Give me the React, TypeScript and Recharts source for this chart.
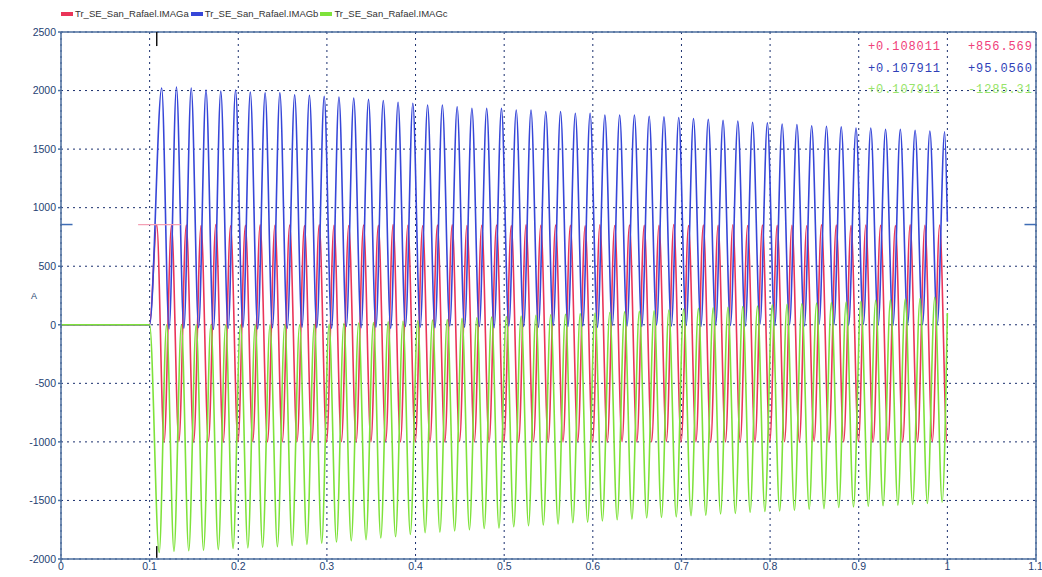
import { LineChart, Line, XAxis, YAxis, CartesianGrid, ReferenceLine } from "recharts";

// 60 Hz inrush record, one entry per cycle (54 cycles between 0.1 s and 1.0 s)
const PERIOD = 1 / 60;

const timeTicks = [0, 0.1, 0.2, 0.3, 0.4, 0.5, 0.6, 0.7, 0.8, 0.9, 1, 1.1];
const currentTicks = [-2000, -1500, -1000, -500, 0, 500, 1000, 1500, 2000, 2500];

const seriesNames = ["Tr_SE_San_Rafael.IMAGa", "Tr_SE_San_Rafael.IMAGb", "Tr_SE_San_Rafael.IMAGc"];

// phase a (red): peaks / troughs per cycle
const redPeaks = [
  856, 850, 852, 848, 855, 846, 850, 853, 849, 851, 847, 854, 850, 848, 852, 849, 855, 850,
  846, 851, 853, 848, 850, 852, 847, 854, 849, 851, 850, 846, 853, 848, 852, 850, 849, 855,
  847, 851, 850, 853, 848, 852, 849, 850, 846, 854, 851, 848, 852, 850, 847, 853, 849, 851,
];
const redTroughs = [
  -1000, -998, -1000, -995, -1000, -1000, -997, -1000, -1000, -996, -1000, -1000, -998, -1000,
  -1000, -995, -1000, -999, -1000, -1000, -996, -1000, -1000, -998, -1000, -997, -1000, -1000,
  -995, -1000, -1000, -998, -1000, -1000, -996, -1000, -999, -1000, -1000, -997, -1000, -1000,
  -998, -1000, -995, -1000, -1000, -997, -1000, -1000, -998, -1000, -996, -1000,
];

// phase b (blue)
const bluePeaks = [
  2022, 2030, 2022, 2005, 1995, 2005, 1988, 1980, 1980, 1963,
  1960, 1950, 1945, 1935, 1925, 1915, 1900,
  1891, 1877, 1877, 1862, 1848, 1848, 1848, 1834, 1834, 1820, 1820, 1806, 1806, 1791, 1791, 1791,
  1780, 1775, 1770, 1760, 1755, 1745, 1740, 1730, 1725, 1715, 1710, 1700, 1695,
  1690, 1680, 1680, 1670, 1670, 1660, 1655, 1648,
];
const blueTroughs = [
  -35, -30, -25, -40, -30, -20, -35, -25, -30, -20, -25, -30, -15, -25, -20, -30, -15, -20,
  -25, -10, -20, -15, -25, -10, -15, -20, -5, -15, -10, -20, -5, -10, -15, 0, -10, -5,
  -15, 0, -5, -10, 5, -5, 0, -10, 5, 0, -5, 5, 0, -5, 10, 0, 5, 0,
];

// phase c (green): troughs / peaks per cycle
const greenTroughs = [
  -1945, -1935, -1930, -1925, -1920, -1910, -1905, -1900, -1895, -1885,
  -1875, -1865, -1855, -1845, -1835, -1820, -1810,
  -1790, -1775, -1770, -1760, -1750, -1740, -1735, -1725, -1715, -1710, -1700, -1690, -1685, -1675, -1665, -1660,
  -1650, -1645, -1640, -1630, -1625, -1615, -1610, -1600, -1595, -1590, -1585, -1575, -1570,
  -1560, -1555, -1550, -1545, -1540, -1535, -1525, -1515,
];
const greenPeaks = [
  0, 0, 0, 0, 0, 0, 0, 0, 0, 0, 0, 5, 10,
  15, 20, 25, 30, 35, 40, 45, 55,
  60, 65, 70, 75, 80, 85, 90, 95, 100, 105, 110, 115,
  120, 125, 135, 140, 145, 150, 155, 160, 170, 175, 180, 185, 190,
  195, 200, 210, 215, 220, 225, 235, 240,
];

// cursor readout at t ~ 0.108 s
const cursorTimes = ["+0.108011", "+0.107911", "+0.107911"];
const cursorValues = ["+856.569", "+95.0560", "-1285.31"];

const RED = "#ea3458";
const BLUE = "#3646d8";
const GREEN = "#7ee23a";
const FRAME = "#4b6e9e";

type Pt = { t: number; v: number };

function buildWave(first: number[], second: number[], firstTime: number, endValue: number): Pt[] {
  const pts: Pt[] = [
    { t: 0, v: 0 },
    { t: 0.1, v: 0 },
  ];
  first.forEach((a, k) => {
    const t1 = firstTime + k * PERIOD;
    if (t1 <= 1) pts.push({ t: t1, v: a });
    const t2 = t1 + PERIOD / 2;
    if (t2 <= 1) pts.push({ t: t2, v: second[k] });
  });
  pts.push({ t: 1, v: endValue });
  return pts;
}

const redData = buildWave(redPeaks, redTroughs, 0.108, -1000);
const blueData = buildWave(bluePeaks, blueTroughs, 0.1136, 880);
const greenData = buildWave(greenTroughs, greenPeaks, 0.1108, 100);

const tickStyle = { fontFamily: "Liberation Sans, Arial, sans-serif", fontSize: 10.5, fill: "#1f3f73" };

export default function App() {
  const legendColors = [RED, BLUE, GREEN];
  const readoutColors = ["#f0407a", "#2f3fb8", "#98e46a"];
  return (
    <div style={{ position: "fixed", left: 0, top: 0, width: 1042, height: 577, background: "#fff" }}>
      <div
        style={{
          position: "absolute",
          left: 61,
          top: 8,
          display: "flex",
          fontFamily: "Liberation Sans, Arial, sans-serif",
          fontSize: 9.5,
          color: "#333",
          lineHeight: "12px",
        }}
      >
        {seriesNames.map((n, i) => (
          <div key={n} style={{ display: "flex", alignItems: "center", marginRight: 2 }}>
            <span style={{ display: "inline-block", width: 12, height: 4, background: legendColors[i], marginRight: 2 }} />
            <span>{n}</span>
          </div>
        ))}
      </div>

      <LineChart width={1042} height={577} margin={{ top: 32, right: 6, bottom: 0, left: 0 }}>
        <CartesianGrid stroke="#1a2f6e" strokeDasharray="2 4" />
        <XAxis
          type="number"
          dataKey="t"
          domain={[0, 1.1]}
          ticks={timeTicks}
          allowDataOverflow
          height={18}
          stroke={FRAME}
          strokeWidth={1.5}
          tickSize={3}
          tickMargin={1}
          tick={tickStyle}
          tickFormatter={(v: number) => String(Math.round(v * 10) / 10)}
        />
        <YAxis
          type="number"
          dataKey="v"
          domain={[-2000, 2500]}
          ticks={currentTicks}
          allowDataOverflow
          width={61}
          stroke={FRAME}
          strokeWidth={1.5}
          tickSize={3}
          tickMargin={2}
          tick={tickStyle}
          label={{ value: "A", position: "insideLeft", offset: 31, style: { ...tickStyle, fontSize: 9 } }}
        />
        <ReferenceLine y={2500} stroke={FRAME} strokeWidth={1.5} ifOverflow="visible" />
        <ReferenceLine x={1.1} stroke={FRAME} strokeWidth={1.5} ifOverflow="visible" />

        <Line data={redData} dataKey="v" name={seriesNames[0]} type="monotone" stroke={RED} strokeWidth={1.6} dot={false} isAnimationActive={false} />
        <Line data={blueData} dataKey="v" name={seriesNames[1]} type="monotone" stroke={BLUE} strokeWidth={1.6} dot={false} isAnimationActive={false} />
        <Line data={greenData} dataKey="v" name={seriesNames[2]} type="monotone" stroke={GREEN} strokeWidth={1.6} dot={false} isAnimationActive={false} />

        {/* cursor markers */}
        <ReferenceLine segment={[{ x: 0.087, y: 856 }, { x: 0.135, y: 856 }]} stroke="#f4a0b4" strokeWidth={1.2} ifOverflow="visible" />
        <ReferenceLine segment={[{ x: 0, y: 856 }, { x: 0.013, y: 856 }]} stroke="#3f6db5" strokeWidth={1.5} ifOverflow="visible" />
        <ReferenceLine segment={[{ x: 1.087, y: 856 }, { x: 1.1, y: 856 }]} stroke="#3f6db5" strokeWidth={1.5} ifOverflow="visible" />
        <ReferenceLine segment={[{ x: 0.108, y: 2500 }, { x: 0.108, y: 2380 }]} stroke="#111" strokeWidth={1.5} ifOverflow="visible" />
        <ReferenceLine segment={[{ x: 0.108, y: -1990 }, { x: 0.108, y: -1890 }]} stroke="#111" strokeWidth={1.5} ifOverflow="visible" />
      </LineChart>

      {cursorTimes.map((t, i) => (
        <div
          key={i}
          style={{
            position: "absolute",
            top: 40 + i * 21.5,
            left: 868,
            width: 174,
            overflow: "hidden",
            whiteSpace: "nowrap",
            fontFamily: "Liberation Mono, DejaVu Sans Mono, monospace",
            fontSize: 12,
            letterSpacing: 0.9,
            lineHeight: "14px",
            color: readoutColors[i],
          }}
        >
          <span style={{ display: "inline-block", width: 100 }}>{t}</span>
          <span>{cursorValues[i]}</span>
        </div>
      ))}
    </div>
  );
}
